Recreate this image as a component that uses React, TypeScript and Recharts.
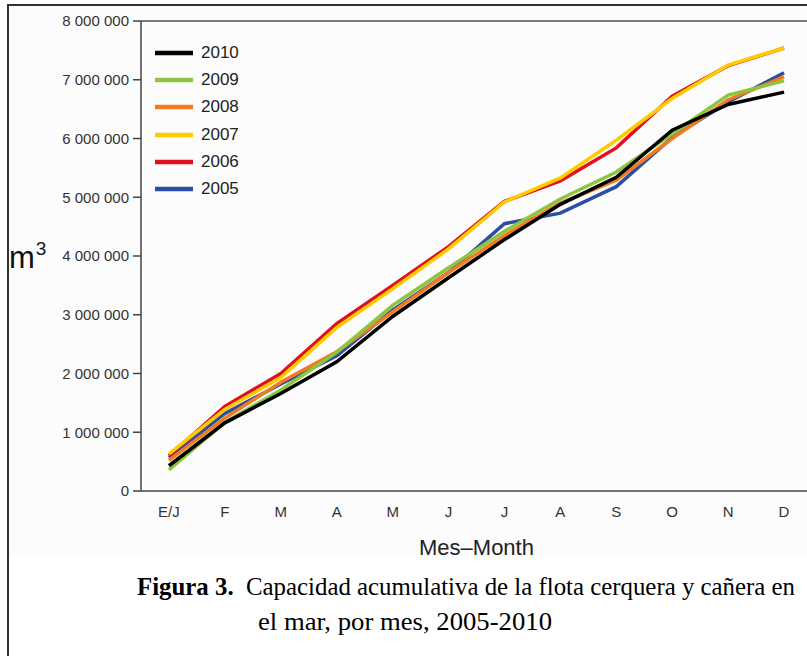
import React from 'react';
import { LineChart, Line, XAxis, YAxis, Legend, ReferenceLine } from 'recharts';

const months = ['E/J', 'F', 'M', 'A', 'M', 'J', 'J', 'A', 'S', 'O', 'N', 'D'];
const s2010 = [430000, 1160000, 1660000, 2200000, 2970000, 3630000, 4280000, 4880000, 5340000, 6140000, 6580000, 6790000];
const s2009 = [360000, 1170000, 1720000, 2360000, 3160000, 3800000, 4420000, 4970000, 5430000, 6080000, 6740000, 6980000];
const s2008 = [520000, 1240000, 1850000, 2370000, 3050000, 3720000, 4350000, 4900000, 5290000, 6000000, 6660000, 7050000];
const s2007 = [630000, 1390000, 1930000, 2780000, 3440000, 4120000, 4920000, 5330000, 5970000, 6680000, 7250000, 7540000];
const s2006 = [600000, 1440000, 2000000, 2850000, 3500000, 4160000, 4930000, 5280000, 5840000, 6720000, 7240000, 7540000];
const s2005 = [570000, 1320000, 1820000, 2300000, 3080000, 3720000, 4550000, 4730000, 5180000, 6020000, 6620000, 7120000];
const yTicks = [0, 1000000, 2000000, 3000000, 4000000, 5000000, 6000000, 7000000, 8000000];
const legendOrder = ['2010', '2009', '2008', '2007', '2006', '2005'];

const series = [
  { key: 'y2005', name: '2005', values: s2005, color: '#2a4fa5' },
  { key: 'y2006', name: '2006', values: s2006, color: '#e0101c' },
  { key: 'y2007', name: '2007', values: s2007, color: '#ffcc00' },
  { key: 'y2008', name: '2008', values: s2008, color: '#f47a20' },
  { key: 'y2009', name: '2009', values: s2009, color: '#8cc63f' },
  { key: 'y2010', name: '2010', values: s2010, color: '#000000' },
];

const rows = months.map((m, i) => {
  const r: any = { x: i + 0.5, m };
  series.forEach((s) => { r[s.key] = s.values[i]; });
  return r;
});
const boundaryTicks = months.map((_, i) => i).concat([months.length]);
const centerTicks = months.map((_, i) => i + 0.5);

const fmt = (v: number) => String(v).replace(/\B(?=(\d{3})+(?!\d))/g, ' ');

const renderLegend = (props: any) => {
  const payload = props.payload || [];
  const sorted = legendOrder
    .map((n) => payload.find((p: any) => String(p.value) === n))
    .filter(Boolean);
  return (
    <div>
      {sorted.map((p: any) => (
        <div key={p.value} style={{ display: 'flex', alignItems: 'center', height: 27.3 }}>
          <svg width={38} height={6} style={{ display: 'block' }}>
            <line x1={0} x2={38} y1={3} y2={3} stroke={p.color} strokeWidth={4.5} />
          </svg>
          <span style={{ marginLeft: 8, fontSize: 17, color: '#222' }}>{p.value}</span>
        </div>
      ))}
    </div>
  );
};

const M3Label = (props: any) => {
  const vb = props.viewBox || { x: 0, y: 0, height: 0 };
  const cy = vb.y + vb.height / 2;
  return (
    <text x={vb.x + 9} y={cy + 12} fill="#111" fontSize={31}>
      m<tspan fontSize={19} dx={1} dy={-13}>3</tspan>
    </text>
  );
};

export default function App() {
  return (
    <div
      style={{
        position: 'absolute', left: 0, top: 0, width: 807, height: 656, overflow: 'hidden',
        background: '#fff', fontFamily: '"Liberation Sans", Arial, sans-serif',
      }}
    >
      <div style={{ position: 'absolute', left: 9, top: 6, width: 798, height: 550, background: '#fcfcfc' }} />
      <div style={{ position: 'absolute', left: 0, top: 0 }}>
        <LineChart width={812} height={560} data={rows} margin={{ top: 21, right: 0, bottom: 0, left: 0 }}>
          <XAxis
            xAxisId="b"
            type="number"
            dataKey="x"
            domain={[0, 12]}
            ticks={centerTicks}
            interval={0}
            tickFormatter={(v: number) => months[Math.floor(v)]}
            axisLine={false}
            tickLine={false}
            tickSize={0}
            tickMargin={14}
            height={68}
            tick={{ fill: '#333', fontSize: 15 }}
            label={{ value: 'Mes–Month', position: 'insideBottom', offset: 5, fontSize: 22, fill: '#222' }}
          />
          <XAxis
            xAxisId="a"
            type="number"
            dataKey="x"
            domain={[0, 12]}
            ticks={boundaryTicks}
            interval={0}
            tick={false}
            tickLine={{ stroke: '#444', strokeWidth: 1.5 }}
            tickSize={7}
            height={1}
            stroke="#444"
            strokeWidth={1.5}
          />
          <YAxis
            type="number"
            domain={[0, 8000000]}
            ticks={yTicks}
            interval={0}
            width={141}
            tickSize={8}
            tickMargin={4}
            stroke="#444"
            strokeWidth={1.5}
            tick={{ fill: '#333', fontSize: 15 }}
            tickFormatter={fmt}
            label={<M3Label />}
          />
          <ReferenceLine y={8000000} xAxisId="b" stroke="#555" strokeWidth={1.5} />
          <Legend
            layout="vertical"
            align="center"
            verticalAlign="middle"
            content={renderLegend}
            wrapperStyle={{ left: 155, top: 39, width: 120, height: 170 }}
          />
          {series.map((s) => (
            <Line
              key={s.key}
              xAxisId="b"
              type="linear"
              dataKey={s.key}
              name={s.name}
              stroke={s.color}
              strokeWidth={3.5}
              dot={false}
              activeDot={false}
              isAnimationActive={false}
            />
          ))}
        </LineChart>
      </div>
      <div style={{ position: 'absolute', left: 7, top: 4, width: 2, height: 652, background: '#333' }} />
      <div style={{ position: 'absolute', left: 7, top: 4, width: 800, height: 2, background: '#333' }} />
      <svg style={{ position: 'absolute', left: 0, top: 556 }} width={807} height={100}>
        <text
          x={137}
          y={39}
          fontFamily='"Liberation Serif", "Times New Roman", serif'
          fontSize={25}
          fill="#000"
          textLength={658}
          lengthAdjust="spacingAndGlyphs"
        >
          <tspan fontWeight="bold">Figura 3.</tspan>
          <tspan>{'\u00a0\u00a0Capacidad acumulativa de la flota cerquera y cañera en'}</tspan>
        </text>
        <text
          x={258}
          y={74}
          fontFamily='"Liberation Serif", "Times New Roman", serif'
          fontSize={26}
          fill="#000"
          textLength={294}
          lengthAdjust="spacingAndGlyphs"
        >
          el mar, por mes, 2005-2010
        </text>
      </svg>
    </div>
  );
}
